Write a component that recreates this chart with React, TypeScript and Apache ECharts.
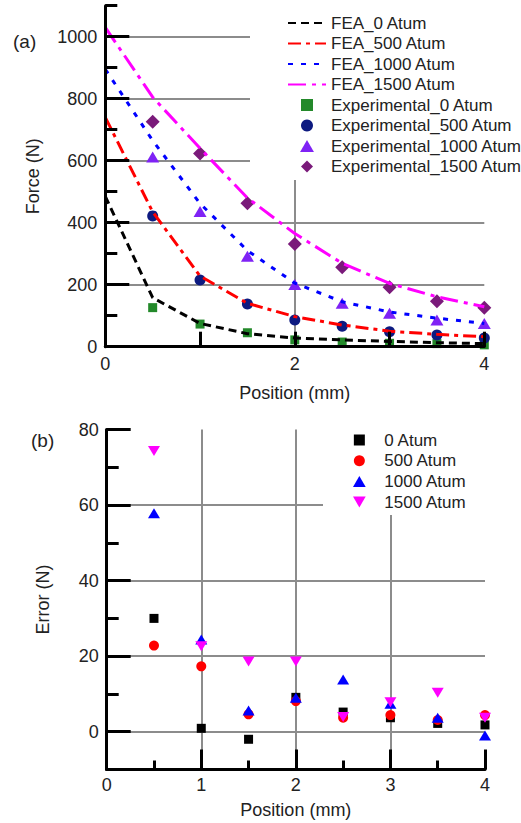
import React, { useEffect, useRef } from "react";
import * as echarts from "echarts";

// ---- data ----
const feaPositions = [0, 0.5, 1, 1.5, 2, 2.5, 3, 3.5, 4];
const fea0 = [485, 158, 75, 42, 28, 22, 17, 13, 10];
const fea500 = [740, 435, 228, 140, 97, 70, 50, 40, 32];
const fea1000 = [895, 665, 462, 310, 205, 145, 112, 92, 75];
const fea1500 = [1030, 805, 640, 480, 365, 269, 204, 161, 129];

const expPositions = [0.5, 1, 1.5, 2, 2.5, 3, 3.5, 4];
const exp0 = [126, 73, 45, 22, 15, 11, 10, 6];
const exp500 = [422, 215, 138, 86, 66, 48, 38, 28];
const exp1000 = [612, 436, 292, 201, 140, 108, 86, 75];
const exp1500 = [726, 623, 463, 331, 256, 192, 147, 126];

const err0 = [30, 0.9, -2, 9.1, 5.2, 3.7, 2.2, 1.8];
const err500 = [22.8, 17.3, 4.6, 8.1, 3.7, 4.4, 3.1, 4.4];
const err1000 = [57.8, 24.4, 5.6, 9.0, 13.8, 7.4, 3.7, -1.0];
const err1500 = [74.3, 22.6, 18.6, 18.6, 3.9, 7.8, 10.3, 3.7];

const feaNames = ["FEA_0 Atum", "FEA_500 Atum", "FEA_1000 Atum", "FEA_1500 Atum"];
const expNames = [
  "Experimental_0 Atum",
  "Experimental_500 Atum",
  "Experimental_1000 Atum",
  "Experimental_1500 Atum",
];
const errNames = ["0 Atum", "500 Atum", "1000 Atum", "1500 Atum"];

const forceMajorTicks = [0, 200, 400, 600, 800, 1000];
const forceGridLines = [200, 400, 600, 800, 1000];
const forcePosGridLines = [2];
const errorMajorTicks = [0, 20, 40, 60, 80];
const errorGridLines = [0, 20, 40, 60];
const errorPosGridLines = [1, 2, 3];

const FONT = "Liberation Sans, Arial, sans-serif";
const TXT = "#222";
const GRIDC = "#8c8c8c";

const SQUARE = "path://M0,0 L10,0 L10,10 L0,10 Z";
const TRI_UP = "path://M5,0 L10,8.66 L0,8.66 Z";
const TRI_DOWN = "path://M0,0 L10,0 L5,8.66 Z";
const DIAMOND = "path://M5,0 L10,5 L5,10 L0,5 Z";

const zip = (xs: number[], ys: number[]) => xs.map((x, i) => [x, ys[i]]);

export default function App() {
  const ref = useRef<HTMLDivElement>(null);
  useEffect(() => {
    document.body.style.margin = "0";
    const chart = echarts.init(ref.current!, undefined, { renderer: "svg" });

    const axisLine = { show: true, onZero: false, lineStyle: { color: "#000", width: 3 } };
    const tickStyle = { color: "#000", width: 3 };
    const label = { color: TXT, fontSize: 18, fontFamily: FONT };
    const nameStyle = { color: TXT, fontSize: 18, fontFamily: FONT };

    const lineSeries = (name: string, data: number[], color: string, dash: number[]) => ({
      name,
      type: "line",
      xAxisIndex: 0,
      yAxisIndex: 0,
      data: zip(feaPositions, data),
      symbol: "circle",
      showSymbol: false,
      z: 3,
      lineStyle: { color, width: 3, type: dash },
      itemStyle: { color },
    });
    const scat = (
      name: string,
      xs: number[],
      ys: number[],
      color: string,
      symbol: string,
      size: number | number[],
      gi: number
    ) => ({
      name,
      type: "scatter",
      xAxisIndex: gi,
      yAxisIndex: gi === 0 ? 0 : 2,
      data: zip(xs, ys),
      symbol,
      symbolSize: size,
      z: 2,
      itemStyle: { color, opacity: 1 },
    });
    const gridLines = (gi: number, yi: number, hs: number[], vs: number[]) => ({
      name: "gridlines" + gi,
      type: "line",
      xAxisIndex: gi,
      yAxisIndex: yi,
      data: [],
      z: 1,
      silent: true,
      markLine: {
        z: 1,
        silent: true,
        symbol: ["none", "none"],
        label: { show: false },
        lineStyle: { color: GRIDC, width: 2, type: "solid" },
        emphasis: { disabled: true },
        data: [...hs.map((v) => ({ yAxis: v })), ...vs.map((v) => ({ xAxis: v }))],
      },
    });

    chart.setOption({
      animation: false,
      backgroundColor: "#fff",
      textStyle: { fontFamily: FONT },
      grid: [
        { left: 105.3, top: 5.7, width: 379, height: 341 },
        { left: 106.7, top: 429.5, width: 378.3, height: 340 },
      ],
      xAxis: [
        {
          type: "value",
          gridIndex: 0,
          min: 0,
          max: 4,
          interval: 1,
          z: 4,
          axisLine,
          axisTick: { show: true, inside: true, length: 15, lineStyle: tickStyle },
          splitLine: { show: false },
          axisLabel: { ...label, margin: 8, formatter: (v: number) => (v % 2 === 0 ? String(v) : "") },
          name: "Position (mm)",
          nameLocation: "middle",
          nameGap: 37,
          nameTextStyle: nameStyle,
        },
        {
          type: "value",
          gridIndex: 1,
          min: 0,
          max: 4,
          interval: 1,
          z: 4,
          axisLine,
          axisTick: { show: true, inside: true, length: 20, lineStyle: tickStyle },
          minorTick: { show: true, splitNumber: 2, length: 9, lineStyle: tickStyle },
          splitLine: { show: false },
          axisLabel: { ...label, margin: 6 },
          name: "Position (mm)",
          nameLocation: "middle",
          nameGap: 31,
          nameTextStyle: nameStyle,
        },
      ],
      yAxis: [
        {
          type: "value",
          gridIndex: 0,
          min: 0,
          max: 1100,
          interval: 100,
          z: 4,
          axisLine,
          axisTick: { show: true, inside: true, length: 12, lineStyle: tickStyle },
          splitLine: { show: false },
          axisLabel: {
            ...label,
            margin: 8,
            formatter: (v: number) => (v % 200 === 0 && v <= 1000 ? String(v) : ""),
          },
          name: "Force (N)",
          nameLocation: "middle",
          nameGap: 63,
          nameTextStyle: nameStyle,
        },
        {
          type: "value",
          gridIndex: 0,
          position: "left",
          min: 0,
          max: 1100,
          interval: 100,
          z: 4,
          axisLine: { show: false },
          axisTick: {
            show: true,
            inside: true,
            length: 24,
            lineStyle: tickStyle,
            customValues: forceMajorTicks,
          },
          axisLabel: { show: false },
          splitLine: { show: false },
        },
        {
          type: "value",
          gridIndex: 1,
          min: -10,
          max: 80,
          interval: 10,
          z: 4,
          axisLine,
          axisTick: { show: true, inside: true, length: 12, lineStyle: tickStyle },
          splitLine: { show: false },
          axisLabel: {
            ...label,
            margin: 8,
            formatter: (v: number) => (v >= 0 && v % 20 === 0 ? String(v) : ""),
          },
          name: "Error (N)",
          nameLocation: "middle",
          nameGap: 55,
          nameTextStyle: nameStyle,
        },
        {
          type: "value",
          gridIndex: 1,
          position: "left",
          min: -10,
          max: 80,
          interval: 10,
          z: 4,
          axisLine: { show: false },
          axisTick: {
            show: true,
            inside: true,
            length: 24,
            lineStyle: tickStyle,
            customValues: errorMajorTicks,
          },
          axisLabel: { show: false },
          splitLine: { show: false },
        },
      ],
      legend: [
        {
          orient: "vertical",
          left: 287,
          top: 13,
          padding: 0,
          itemGap: 0.5,
          itemWidth: 38,
          itemHeight: 12,
          symbolKeepAspect: true,
          textStyle: { color: TXT, fontSize: 17, fontFamily: FONT, lineHeight: 20 },
          data: [
            ...feaNames.map((n) => ({
              name: n,
              itemStyle: { opacity: 0, color: "rgba(0,0,0,0)", borderWidth: 0 },
            })),
            ...expNames,
          ],
        },
        {
          orient: "vertical",
          left: 353,
          top: 430,
          padding: 0,
          itemGap: 0.7,
          itemWidth: 40,
          itemHeight: 11,
          symbolKeepAspect: true,
          textStyle: { color: TXT, fontSize: 17, fontFamily: FONT, lineHeight: 20 },
          data: errNames,
        },
      ],
      graphic: [
        { type: "rect", z: 1.5, shape: { x: 250, y: 0, width: 271, height: 180 }, style: { fill: "#fff" } },
        { type: "rect", z: 1.5, shape: { x: 323, y: 415, width: 198, height: 100 }, style: { fill: "#fff" } },
        { type: "text", left: 13, top: 32, style: { text: "(a)", fill: TXT, font: `19px ${FONT}` } },
        { type: "text", left: 31, top: 431, style: { text: "(b)", fill: TXT, font: `19px ${FONT}` } },
      ],
      series: [
        gridLines(0, 0, forceGridLines, forcePosGridLines),
        gridLines(1, 2, errorGridLines, errorPosGridLines),
        scat(expNames[0], expPositions, exp0, "#23892a", SQUARE, 9, 0),
        scat(expNames[1], expPositions, exp500, "#0d1a80", "circle", 11, 0),
        scat(expNames[2], expPositions, exp1000, "#7f22f5", TRI_UP, [13, 11], 0),
        scat(expNames[3], expPositions, exp1500, "#7a1a7a", DIAMOND, 14, 0),
        lineSeries(feaNames[0], fea0, "#000000", [8, 5]),
        lineSeries(feaNames[1], fea500, "#ff0000", [13, 5, 4, 5]),
        lineSeries(feaNames[2], fea1000, "#0000ff", [5, 8]),
        lineSeries(feaNames[3], fea1500, "#ff00ff", [18, 6, 4, 6]),
        scat(errNames[0], expPositions, err0, "#000000", SQUARE, 9, 1),
        scat(errNames[1], expPositions, err500, "#ff0000", "circle", 10, 1),
        scat(errNames[2], expPositions, err1000, "#0000ff", TRI_UP, [12, 10], 1),
        scat(errNames[3], expPositions, err1500, "#ff00ff", TRI_DOWN, [12, 10], 1),
      ],
    });
    return () => chart.dispose();
  }, []);
  return <div ref={ref} style={{ width: 521, height: 823 }} />;
}
